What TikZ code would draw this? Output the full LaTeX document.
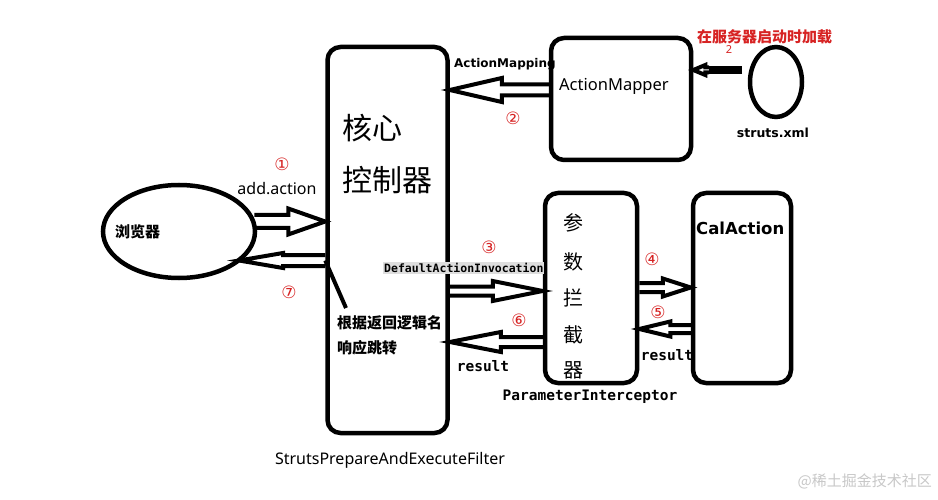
\documentclass[tikz,border=0pt]{standalone}
\usepackage{fontspec}
\setmainfont{Noto Sans}
\newfontfamily\cjk{Noto Sans CJK SC}
\newfontfamily\monof{DejaVu Sans Mono}
\newfontfamily\symf{DejaVu Sans}
\usetikzlibrary{calc,shapes.geometric}
\definecolor{hred}{RGB}{215,35,35}
\definecolor{lgray}{RGB}{222,222,222}
\definecolor{wm}{RGB}{200,200,200}
\newcommand{\blockarrow}[5]{%
 \draw[blk] let \p1=(#1), \p2=(#2), \n1={sign(\x2-\x1)}, \n2={\x2-\n1*#5} in
  (\x1,{\y1+#3}) -- (\n2,{\y1+#3}) -- (\n2,{\y1+#4}) -- (\x2,\y1)
  -- (\n2,{\y1-#4}) -- (\n2,{\y1-#3}) -- (\x1,{\y1-#3});}
\begin{document}
\begin{tikzpicture}[x=1pt,y=-1pt,
  box/.style={draw, line width=4.5pt, rounded corners=13pt, inner sep=0pt},
  oval/.style={draw, ellipse, line width=4.5pt, inner sep=0pt},
  blk/.style={draw, line width=4pt, line join=miter},
  ln/.style={draw, line width=4pt},
  num/.style={text=hred, font=\symf\fontsize{17}{17}\selectfont, inner sep=0pt},
  cn/.style={font=\cjk\fontsize{15}{15}\selectfont\bfseries, inner sep=0pt},
  big/.style={font=\cjk\fontsize{30}{30}\selectfont, inner sep=0pt},
  pc/.style={font=\cjk\fontsize{20}{20}\selectfont, inner sep=0pt},
  lat/.style={font=\fontsize{16}{16}\selectfont, inner sep=0pt},
  latb/.style={font=\symf\fontsize{12}{12}\selectfont\bfseries, inner sep=0pt},
  mono/.style={font=\monof\fontsize{14.5}{14.5}\selectfont\bfseries, inner sep=0pt}]
\useasboundingbox (0,0) rectangle (938,500);
\fill[white] (0,0) rectangle (938,500);

% boxes
\node[box, minimum width=120, minimum height=386] (core) at (387.5,240) {};
\node[box, minimum width=140, minimum height=122] (mapper) at (621,99) {};
\node[oval, minimum width=52, minimum height=70] (struts) at (776,82) {};
\node[oval, minimum width=152, minimum height=93] (browser) at (179,231.5) {};
\node[box, minimum width=92, minimum height=190] (param) at (591,288) {};
\node[box, minimum width=98, minimum height=190] (cal) at (742,288) {};

% texts
\node[big, anchor=west] (t1) at (342,128) {核心};
\node[big, anchor=west] (t2) at (342,180) {控制器};
\node[cn, anchor=west] (t3) at (337,323) {根据返回逻辑名};
\node[cn, anchor=west] (t4) at (337,348) {响应跳转};
\node[cn, anchor=west] (tb) at (115,232) {浏览器};
\node[lat] (tadd) at (277,189) {add.action};
\node[lat, anchor=west, font=\fontsize{16.5}{16.5}\selectfont] (tam) at (559,86) {ActionMapper};
\node[latb, anchor=west] (tamp) at (454,64) {ActionMapping};
\node[cn, text=hred, anchor=west] (tload) at (697,37) {在服务器启动时加载};
\node[text=hred, font=\fontsize{11}{11}\selectfont, inner sep=0pt] (tsm) at (729,50) {2};
\node[latb, font=\symf\fontsize{12.5}{12.5}\selectfont\bfseries] (tsx) at (773,133) {struts.xml};
\node[mono, fill=lgray, anchor=west, font=\monof\fontsize{11.5}{11.5}\selectfont\bfseries, inner sep=1pt] (tdai) at (383,268) {DefaultActionInvocation};
\node[mono] (tr1) at (483,366) {result};
\node[mono] (tr2) at (667,355) {result};
\node[mono] (tpi) at (590,397) {ParameterInterceptor};
\node[latb, anchor=west, font=\symf\fontsize{16.5}{16.5}\selectfont\bfseries] (tcal) at (696,228) {CalAction};
\node[pc] (p1) at (573,223) {参};
\node[pc] (p2) at (573,262) {数};
\node[pc] (p3) at (573,298) {拦};
\node[pc] (p4) at (573,335) {截};
\node[pc] (p5) at (573,370) {器};
\node[lat] (tspe) at (390,460) {StrutsPrepareAndExecuteFilter};
\node[text=wm, font=\cjk\fontsize{15}{15}\selectfont, inner sep=0pt, anchor=east] (twm) at (932,481) {@稀土掘金技术社区};

% red numbers
\node[num] (n1) at (282,164) {①};
\node[num] (n2) at (513,118) {②};
\node[num] (n3) at (489,247) {③};
\node[num] (n4) at (652,259) {④};
\node[num] (n5) at (658,312) {⑤};
\node[num] (n6) at (519,320) {⑥};
\node[num] (n7) at (289,292) {⑦};

% arrow 1: browser -> core
\coordinate (a1) at ($(browser.east)+(-3,-10)$);
\blockarrow{a1}{core.west |- a1}{6.5pt}{13pt}{37pt}
% arrow 7: core -> browser
\coordinate (a7) at (core.west |- 0,260.5);
\coordinate (a7t) at ($(browser.center)+(60,29)$);
\blockarrow{a7}{a7t}{5.5pt}{7.5pt}{44pt}
\coordinate (ptr) at (346,308);
\draw[ln] (a7) -- (ptr);
% arrow 2: mapper -> core
\coordinate (a2) at (mapper.west |- 0,90);
\blockarrow{a2}{core.east |- a2}{5.5pt}{12pt}{52pt}
% struts -> mapper
\coordinate (sb) at (742,70);
\coordinate (sh) at (709,70);
\draw[line width=8pt] (sb) -- (sh);
\blockarrow{sh}{mapper.east |- sh}{2.5pt}{5pt}{12pt}
% arrow 3: core -> param
\coordinate (a3) at (core.east |- 0,291);
\blockarrow{a3}{param.west |- a3}{4.5pt}{10pt}{50pt}
% arrow 6: param -> core
\coordinate (a6) at (param.west |- 0,342);
\blockarrow{a6}{core.east |- a6}{5pt}{10pt}{51pt}
% arrow 4: param -> cal
\coordinate (a4) at (param.east |- 0,287.5);
\blockarrow{a4}{cal.west |- a4}{4.5pt}{9pt}{28pt}
% arrow 5: cal -> param
\coordinate (a5) at (cal.west |- 0,329);
\blockarrow{a5}{param.east |- a5}{4pt}{7.5pt}{31pt}
\end{tikzpicture}
\end{document}
